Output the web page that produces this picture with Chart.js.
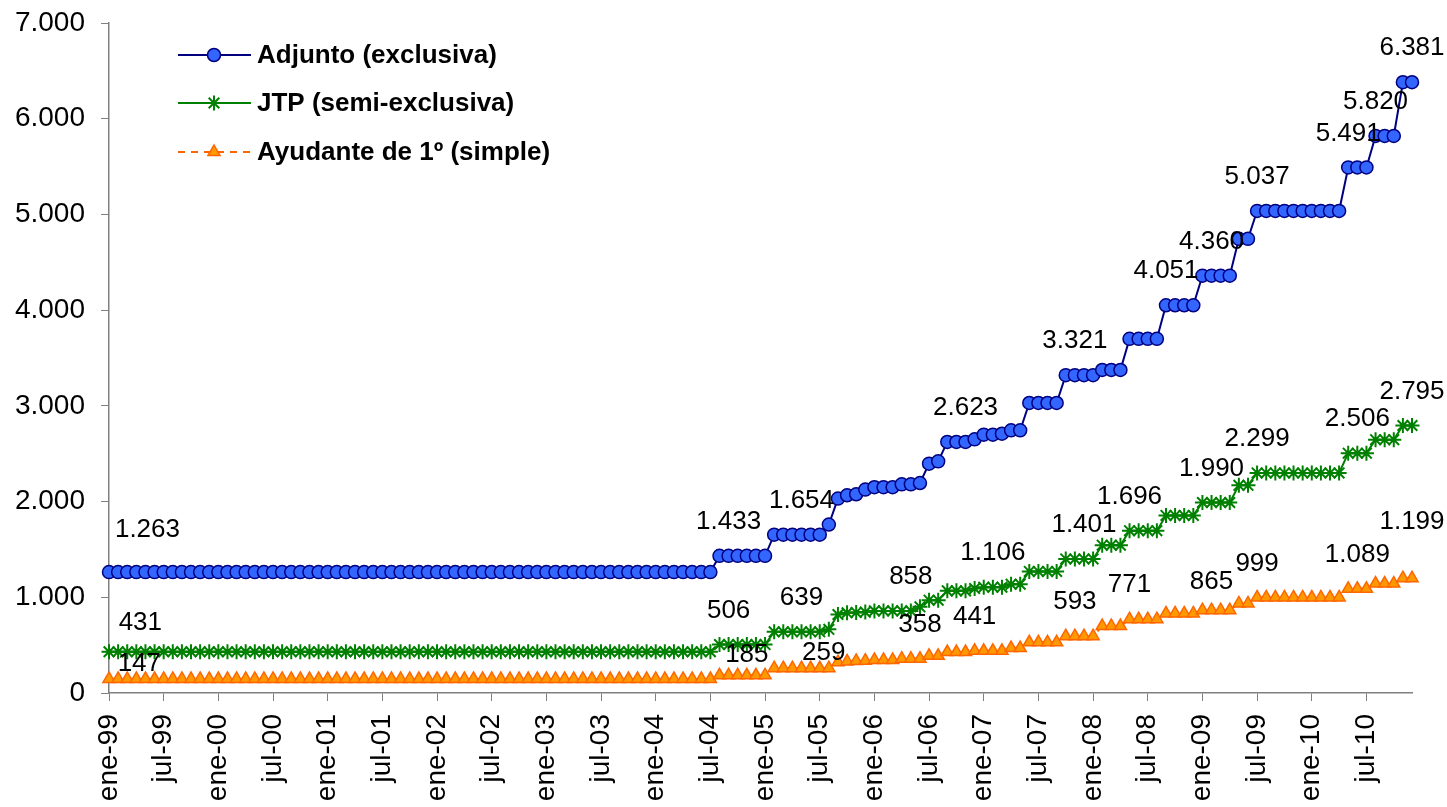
<!DOCTYPE html>
<html>
<head>
<meta charset="utf-8">
<script src="https://cdn.jsdelivr.net/npm/chart.js@4.4.1/dist/chart.umd.min.js"></script>
<style>
html,body{margin:0;padding:0;background:#fff;}
#wrap{width:1447px;height:807px;position:relative;}
</style>
</head>
<body>
<div id="wrap"><canvas id="c" width="1447" height="807"></canvas></div>
<script>
// ---- categories (monthly, ene-99 .. dic-10) ----
const categories = [
'ene-99','feb-99','mar-99','abr-99','may-99','jun-99','jul-99','ago-99','sep-99','oct-99','nov-99','dic-99',
'ene-00','feb-00','mar-00','abr-00','may-00','jun-00','jul-00','ago-00','sep-00','oct-00','nov-00','dic-00',
'ene-01','feb-01','mar-01','abr-01','may-01','jun-01','jul-01','ago-01','sep-01','oct-01','nov-01','dic-01',
'ene-02','feb-02','mar-02','abr-02','may-02','jun-02','jul-02','ago-02','sep-02','oct-02','nov-02','dic-02',
'ene-03','feb-03','mar-03','abr-03','may-03','jun-03','jul-03','ago-03','sep-03','oct-03','nov-03','dic-03',
'ene-04','feb-04','mar-04','abr-04','may-04','jun-04','jul-04','ago-04','sep-04','oct-04','nov-04','dic-04',
'ene-05','feb-05','mar-05','abr-05','may-05','jun-05','jul-05','ago-05','sep-05','oct-05','nov-05','dic-05',
'ene-06','feb-06','mar-06','abr-06','may-06','jun-06','jul-06','ago-06','sep-06','oct-06','nov-06','dic-06',
'ene-07','feb-07','mar-07','abr-07','may-07','jun-07','jul-07','ago-07','sep-07','oct-07','nov-07','dic-07',
'ene-08','feb-08','mar-08','abr-08','may-08','jun-08','jul-08','ago-08','sep-08','oct-08','nov-08','dic-08',
'ene-09','feb-09','mar-09','abr-09','may-09','jun-09','jul-09','ago-09','sep-09','oct-09','nov-09','dic-09',
'ene-10','feb-10','mar-10','abr-10','may-10','jun-10','jul-10','ago-10','sep-10','oct-10','nov-10','dic-10'
];

// ---- series values ----
const adjunto = [
1263,1263,1263,1263,1263,1263,1263,1263,1263,1263,1263,1263,
1263,1263,1263,1263,1263,1263,1263,1263,1263,1263,1263,1263,
1263,1263,1263,1263,1263,1263,1263,1263,1263,1263,1263,1263,
1263,1263,1263,1263,1263,1263,1263,1263,1263,1263,1263,1263,
1263,1263,1263,1263,1263,1263,1263,1263,1263,1263,1263,1263,
1263,1263,1263,1263,1263,1263,1263,1433,1433,1433,1433,1433,
1433,1654,1654,1654,1654,1654,1654,1760,2031,2066,2076,2125,
2150,2150,2150,2180,2180,2194,2396,2420,2623,2623,2623,2650,
2699,2699,2709,2744,2744,3030,3030,3030,3030,3321,3321,3321,
3321,3375,3375,3375,3700,3700,3700,3700,4051,4051,4051,4051,
4360,4360,4360,4360,4745,4745,5037,5037,5037,5037,5037,5037,
5037,5037,5037,5037,5491,5491,5491,5820,5820,5820,6381,6381
];
const jtp = [
431,431,431,431,431,431,431,431,431,431,431,431,
431,431,431,431,431,431,431,431,431,431,431,431,
431,431,431,431,431,431,431,431,431,431,431,431,
431,431,431,431,431,431,431,431,431,431,431,431,
431,431,431,431,431,431,431,431,431,431,431,431,
431,431,431,431,431,431,431,506,506,506,506,506,
506,639,639,639,639,639,639,665,820,838,842,845,
858,858,858,858,858,900,970,970,1067,1067,1067,1092,
1106,1106,1106,1137,1137,1270,1270,1270,1270,1401,1401,1401,
1401,1544,1544,1544,1696,1696,1696,1696,1855,1855,1855,1855,
1990,1990,1990,1990,2170,2170,2299,2299,2299,2299,2299,2299,
2299,2299,2299,2299,2506,2506,2506,2647,2647,2647,2795,2795
];
const ayudante = [
147,147,147,147,147,147,147,147,147,147,147,147,
147,147,147,147,147,147,147,147,147,147,147,147,
147,147,147,147,147,147,147,147,147,147,147,147,
147,147,147,147,147,147,147,147,147,147,147,147,
147,147,147,147,147,147,147,147,147,147,147,147,
147,147,147,147,147,147,147,185,185,185,185,185,
185,259,259,259,259,259,259,259,322,330,335,338,
345,345,345,358,358,358,389,389,428,428,428,441,
441,441,441,470,470,530,530,530,530,593,593,593,
593,699,699,699,771,771,771,771,831,831,831,831,
865,865,865,865,936,936,999,999,999,999,999,999,
999,999,999,999,1089,1089,1089,1144,1144,1144,1199,1199
];
const seriesNames = ['Adjunto (exclusiva)', 'JTP (semi-exclusiva)', 'Ayudante de 1º (simple)'];

// which points carry a value label
const adjLabelIdx = [4, 68, 76, 94, 106, 116, 121, 126, 136, 139, 143];
const jtpLabelIdx = [3, 68, 76, 88, 97, 107, 112, 121, 126, 137, 143];
const ayuLabelIdx = [3, 70, 78, 89, 95, 106, 112, 121, 126, 137, 143];

// y axis ticks
const yTicks = [0, 1000, 2000, 3000, 4000, 5000, 6000, 7000];
const xLabelEvery = 6;

// ---- styling (layout only) ----
const FONT = "'Liberation Sans', Arial, sans-serif";
const labelOffsets = { // dx, dy of label centre relative to point
  'default': [0, -34],
  '0:4': [2, -42],
  '1:3': [4, -29],
  '2:3': [3, -15],
  '2:70': [0, -20],
  '2:78': [4, -15],
  '2:121': [0, -28],
  '2:143': [0, -56]
};

function fmt(v) {
  const s = String(Math.round(v));
  return s.replace(/\B(?=(\d{3})+(?!\d))/g, '.');
}

const labelPlugin = {
  id: 'valueLabels',
  afterDatasetsDraw(chart) {
    const ctx = chart.ctx;
    const idxSets = [adjLabelIdx, jtpLabelIdx, ayuLabelIdx];
    ctx.save();
    ctx.font = '26px ' + FONT;
    ctx.fillStyle = '#000';
    ctx.textAlign = 'center';
    ctx.textBaseline = 'middle';
    idxSets.forEach((set, di) => {
      const meta = chart.getDatasetMeta(di);
      const data = chart.data.datasets[di].data;
      set.forEach(i => {
        const pt = meta.data[i];
        const off = labelOffsets[di + ':' + i] || labelOffsets['default'];
        ctx.fillText(fmt(data[i]), pt.x + off[0], pt.y + off[1]);
      });
    });
    ctx.restore();
  }
};

const legendPlugin = {
  id: 'lineLegend',
  afterDraw(chart) {
    const ctx = chart.ctx;
    const rows = [55, 103, 152];
    const x1 = 178, x2 = 251, xm = 214, xt = 257;
    ctx.save();
    chart.data.datasets.forEach((ds, i) => {
      const y = rows[i];
      ctx.beginPath();
      ctx.strokeStyle = ds.borderColor;
      ctx.lineWidth = ds.borderWidth;
      ctx.setLineDash(ds.borderDash || []);
      ctx.moveTo(x1, y);
      ctx.lineTo(x2, y);
      ctx.stroke();
      ctx.setLineDash([]);
      ctx.fillStyle = ds.pointBackgroundColor;
      ctx.strokeStyle = ds.pointBorderColor;
      ctx.lineWidth = ds.pointBorderWidth;
      Chart.helpers.drawPoint(ctx, {pointStyle: ds.pointStyle, radius: ds.pointRadius, borderWidth: ds.pointBorderWidth, rotation: 0}, xm, y);
      ctx.fillStyle = '#000';
      ctx.font = 'bold 26px ' + FONT;
      ctx.textAlign = 'left';
      ctx.textBaseline = 'middle';
      ctx.fillText(ds.label, xt, y + 1);
    });
    ctx.restore();
  }
};

const ctx = document.getElementById('c').getContext('2d');
new Chart(ctx, {
  type: 'line',
  data: {
    labels: categories,
    datasets: [
      {
        label: seriesNames[0], data: adjunto,
        borderColor: '#000080', borderWidth: 2,
        pointStyle: 'circle', pointRadius: 6.5, pointBorderWidth: 1.5,
        pointBackgroundColor: '#3366FF', pointBorderColor: '#000080',
        tension: 0, fill: false
      },
      {
        label: seriesNames[1], data: jtp,
        borderColor: '#008000', borderWidth: 2,
        pointStyle: 'star', pointRadius: 7.5, pointBorderWidth: 2,
        pointBackgroundColor: '#008000', pointBorderColor: '#008000',
        tension: 0, fill: false
      },
      {
        label: seriesNames[2], data: ayudante,
        borderColor: '#FF6600', borderWidth: 2, borderDash: [7, 6],
        pointStyle: 'triangle', pointRadius: 7, pointBorderWidth: 1.5,
        pointBackgroundColor: '#FF9900', pointBorderColor: '#FF6600',
        tension: 0, fill: false
      }
    ]
  },
  options: {
    responsive: false,
    animation: false,
    devicePixelRatio: 1,
    layout: { padding: { top: 23, right: 35, left: 0, bottom: 0 } },
    plugins: { legend: { display: false }, tooltip: { enabled: false } },
    scales: {
      x: {
        type: 'category',
        offset: false,
        grid: { drawOnChartArea: false, drawTicks: true, tickLength: 8, color: '#808080', lineWidth: 1 },
        border: { display: true, color: '#808080', width: 1.5 },
        ticks: {
          autoSkip: false, maxRotation: 90, minRotation: 90, padding: 13,
          color: '#000', font: { family: FONT, size: 28 },
          callback: function(v, i) { return i % xLabelEvery === 0 ? categories[i] : null; }
        },
        afterFit(scale) { scale.height = 114; }
      },
      y: {
        min: yTicks[0], max: yTicks[yTicks.length - 1],
        afterBuildTicks(scale) { scale.ticks = yTicks.map(v => ({ value: v })); },
        grid: { drawOnChartArea: false, drawTicks: true, tickLength: 8, color: '#808080', lineWidth: 1 },
        border: { display: true, color: '#808080', width: 1.5 },
        ticks: {
          padding: 16, color: '#000', font: { family: FONT, size: 28, lineHeight: 0.5 },
          callback: v => fmt(v)
        },
        afterFit(scale) { scale.width = 109; }
      }
    }
  },
  plugins: [labelPlugin, legendPlugin]
});
</script>
</body>
</html>
